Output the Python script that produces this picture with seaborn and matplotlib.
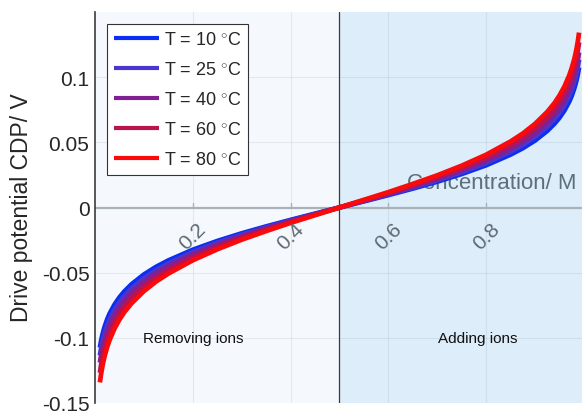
import numpy as np
import pandas as pd
import matplotlib
matplotlib.use("Agg")
import matplotlib.pyplot as plt
import seaborn as sns

# Concentration grid (M)
concentration = [0.01, 0.0125, 0.015, 0.0175, 0.02, 0.025, 0.03, 0.04, 0.05, 0.06,
                 0.075, 0.1, 0.125, 0.15, 0.2, 0.25, 0.3, 0.35, 0.4, 0.45, 0.5,
                 0.55, 0.6, 0.65, 0.7, 0.75, 0.8, 0.85, 0.875, 0.9, 0.925, 0.94,
                 0.95, 0.96, 0.97, 0.975, 0.98, 0.9825, 0.985, 0.9875, 0.99]

# Drive potential CDP (V) for each temperature
cdp_10 = [-0.1075, -0.1022, -0.0979, -0.0943, -0.0911, -0.0857, -0.0813, -0.0744,
          -0.0689, -0.0644, -0.0588, -0.0514, -0.0455, -0.0406, -0.0324, -0.0257,
          -0.0198, -0.0145, -0.0095, -0.0047, 0.0,
          0.0047, 0.0095, 0.0145, 0.0198, 0.0257, 0.0324, 0.0406, 0.0455, 0.0514,
          0.0588, 0.0644, 0.0689, 0.0744, 0.0813, 0.0857, 0.0911, 0.0943, 0.0979,
          0.1022, 0.1075]
cdp_25 = [-0.1135, -0.1079, -0.1034, -0.0995, -0.0961, -0.0905, -0.0859, -0.0785,
          -0.0727, -0.0680, -0.0620, -0.0543, -0.0481, -0.0429, -0.0342, -0.0271,
          -0.0209, -0.0153, -0.0100, -0.0050, 0.0,
          0.0050, 0.0100, 0.0153, 0.0209, 0.0271, 0.0342, 0.0429, 0.0481, 0.0543,
          0.0620, 0.0680, 0.0727, 0.0785, 0.0859, 0.0905, 0.0961, 0.0995, 0.1034,
          0.1079, 0.1135]
cdp_40 = [-0.1190, -0.1132, -0.1084, -0.1043, -0.1008, -0.0949, -0.0900, -0.0823,
          -0.0762, -0.0713, -0.0651, -0.0569, -0.0504, -0.0449, -0.0359, -0.0285,
          -0.0219, -0.0160, -0.0105, -0.0052, 0.0,
          0.0052, 0.0105, 0.0160, 0.0219, 0.0285, 0.0359, 0.0449, 0.0504, 0.0569,
          0.0651, 0.0713, 0.0762, 0.0823, 0.0900, 0.0949, 0.1008, 0.1043, 0.1084,
          0.1132, 0.1190]
cdp_60 = [-0.1268, -0.1206, -0.1155, -0.1112, -0.1074, -0.1011, -0.0959, -0.0877,
          -0.0813, -0.0759, -0.0693, -0.0606, -0.0537, -0.0479, -0.0383, -0.0303,
          -0.0234, -0.0171, -0.0112, -0.0055, 0.0,
          0.0055, 0.0112, 0.0171, 0.0234, 0.0303, 0.0383, 0.0479, 0.0537, 0.0606,
          0.0693, 0.0759, 0.0813, 0.0877, 0.0959, 0.1011, 0.1074, 0.1112, 0.1155,
          0.1206, 0.1268]
cdp_80 = [-0.1342, -0.1276, -0.1222, -0.1176, -0.1136, -0.1070, -0.1015, -0.0928,
          -0.0860, -0.0803, -0.0734, -0.0642, -0.0568, -0.0507, -0.0405, -0.0321,
          -0.0247, -0.0181, -0.0118, -0.0059, 0.0,
          0.0059, 0.0118, 0.0181, 0.0247, 0.0321, 0.0405, 0.0507, 0.0568, 0.0642,
          0.0734, 0.0803, 0.0860, 0.0928, 0.1015, 0.1070, 0.1136, 0.1176, 0.1222,
          0.1276, 0.1342]

temperatures = [10, 25, 40, 60, 80]
series = [cdp_10, cdp_25, cdp_40, cdp_60, cdp_80]
series_labels = [r"T = %d $^{\circ}$C" % t for t in temperatures]
colors = ["#0b2ff2", "#4a35cf", "#7f2193", "#bb1250", "#fa0a0a"]

x_ticks = [0.2, 0.4, 0.6, 0.8]
x_tick_labels = ["0.2", "0.4", "0.6", "0.8"]
y_ticks = [-0.15, -0.1, -0.05, 0, 0.05, 0.1]
y_tick_labels = ["-0.15", "-0.1", "-0.05", "0", "0.05", "0.1"]

df = pd.DataFrame({
    "Concentration": np.concatenate([concentration] * len(series)),
    "CDP": np.concatenate(series),
    "Temperature": np.repeat(series_labels, len(concentration)),
})

sns.set_style("white")
plt.rcParams["font.family"] = ["Liberation Sans", "DejaVu Sans"]
plt.rcParams["mathtext.fontset"] = "custom"
plt.rcParams["mathtext.rm"] = "Liberation Sans"
plt.rcParams["axes.unicode_minus"] = False

fig = plt.figure(figsize=(5.82, 4.14), dpi=100)
ax = fig.add_axes([95 / 582, 10 / 414, 487 / 582, 391 / 414])

xmin, xmax = 0.0, 0.996
ymin, ymax = -0.15, 0.15

# Two shaded regions separated at c = 0.5
ax.set_facecolor("#f5f9fe")
ax.axvspan(0.5, 1.0, color="#ddedfa", zorder=0, lw=0)

# Light grid
for xt in x_ticks:
    ax.axvline(xt, color="#7a8a9a", alpha=0.15, lw=0.8, zorder=0.5)
for yt in y_ticks:
    ax.axhline(yt, color="#7a8a9a", alpha=0.15, lw=0.8, zorder=0.5)

ax.axvline(0.5, color="#3a3a3a", lw=0.9, zorder=1)
# x axis drawn through zero
ax.axhline(0, color="#a9b1b9", lw=1.6, zorder=1.2)

sns.lineplot(data=df, x="Concentration", y="CDP", hue="Temperature",
             hue_order=series_labels, palette=colors, linewidth=3.4,
             errorbar=None, ax=ax, zorder=3, solid_capstyle="butt")

ax.set_xlim(xmin, xmax)
ax.set_ylim(ymin, ymax)

for s in ["top", "right", "bottom"]:
    ax.spines[s].set_visible(False)
ax.spines["left"].set_color("#3c3c3c")
ax.spines["left"].set_linewidth(1.2)

ax.set_yticks(y_ticks)
ax.set_yticklabels(y_tick_labels, fontsize=15, color="#262626")
ax.tick_params(axis="y", direction="in", length=4, width=0.8, color="#3c3c3c", pad=4)

ax.set_xticks([])
ax.set_xlabel("")
ax.set_ylabel("")

# Tick marks and rotated labels on the zero line
for xt, lab in zip(x_ticks, x_tick_labels):
    ax.plot([xt, xt], [0, 0.0035], color="#a9b1b9", lw=1.0, zorder=1.2)
    ax.text(xt, -0.0215, lab, rotation=45, ha="center", va="center",
            fontsize=15, color="#5e6a74", zorder=4)

ax.text(0.985, 0.0195, "Concentration/ M", ha="right", va="center",
        fontsize=16, color="#5e6f7c", zorder=2)
fig.text(22 / 582, 1 - 208 / 414, "Drive potential CDP/ V", rotation=90,
         ha="center", va="center", fontsize=16.5, color="#262626")

ax.text(0.2, -0.1, "Removing ions", ha="center", va="center", fontsize=11, color="#111111")
ax.text(0.783, -0.1, "Adding ions", ha="center", va="center", fontsize=11, color="#111111")

handles, labels = ax.get_legend_handles_labels()
leg = ax.legend(handles, labels, loc="upper left",
                bbox_to_anchor=(107 / 582, 1 - 25 / 414), bbox_transform=fig.transFigure,
                borderaxespad=0, fontsize=13, frameon=True, fancybox=False,
                handlelength=2.5, handletextpad=0.25, labelspacing=0.72,
                borderpad=0.38)
leg.get_frame().set_edgecolor("#333333")
leg.get_frame().set_linewidth(0.8)
leg.get_frame().set_facecolor("white")
leg.get_frame().set_alpha(1)
for line in leg.get_lines():
    line.set_linewidth(3.0)
leg.set_zorder(10)

fig.savefig("out.png", dpi=100)
